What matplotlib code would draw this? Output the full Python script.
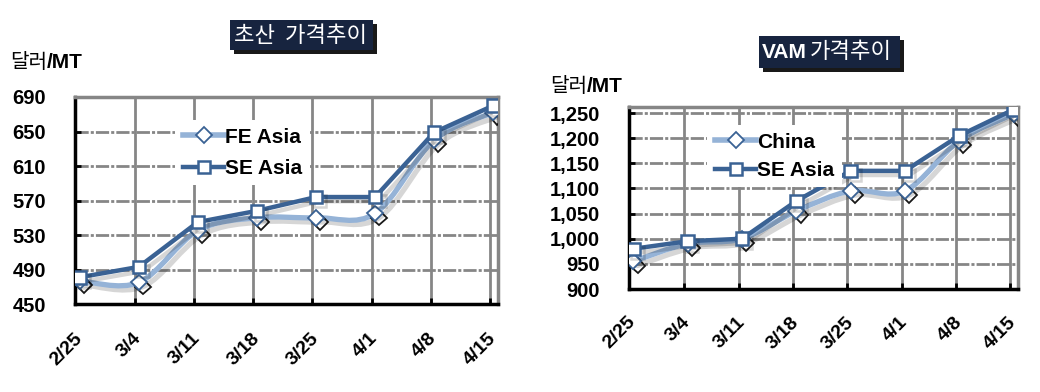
import numpy as np
import matplotlib
matplotlib.use("Agg")
import matplotlib.pyplot as plt
from matplotlib.path import Path
from matplotlib.patches import PathPatch, Rectangle
from matplotlib.lines import Line2D
import matplotlib.patheffects as pe

# data
dates = ["2/25", "3/4", "3/11", "3/18", "3/25", "4/1", "4/8", "4/15"]

aa_fe_asia = [477, 475, 535, 550, 550, 555, 640, 672]
aa_se_asia = [481, 493, 545, 558, 574, 574, 649, 680]
aa_yticks = [450, 490, 530, 570, 610, 650, 690]

vam_china = [955, 990, 1000, 1055, 1095, 1095, 1195, 1248]
vam_se_asia = [980, 995, 1000, 1075, 1135, 1135, 1205, 1257]
vam_yticks = [900, 950, 1000, 1050, 1100, 1150, 1200, 1250]

LIGHT = "#95b3d7"
DARK = "#3a6294"
GRID = "#868686"
NAVY = "#17243f"
FONT = ["Liberation Sans", "Noto Sans CJK KR"]
KFONT = ["Noto Sans CJK KR", "Liberation Sans"]

plt.rcParams["font.family"] = FONT
plt.rcParams["lines.scale_dashes"] = False


def smooth_path(x, y):
    # excel-like smoothed line: catmull-rom segments as bezier curves
    pts = np.column_stack([x, y]).astype(float)
    verts = [pts[0]]
    codes = [Path.MOVETO]
    n = len(pts)
    for i in range(n - 1):
        p0 = pts[i - 1] if i > 0 else pts[i]
        p1 = pts[i]
        p2 = pts[i + 1]
        p3 = pts[i + 2] if i + 2 < n else pts[i + 1]
        verts += [p1 + (p2 - p0) / 6, p2 - (p3 - p1) / 6, p2]
        codes += [Path.CURVE4] * 3
    return Path(verts, codes)


def panel(ax, light, dark, yticks, ylim, fmt, xpad):
    x = np.arange(len(dates))
    shadow = [pe.SimpleLineShadow(offset=(3, -3), shadow_color="k", alpha=0.16), pe.Normal()]

    # smoothed light series
    patch = PathPatch(smooth_path(x, light), facecolor="none", edgecolor=LIGHT,
                      lw=3.8, capstyle="round", joinstyle="round", zorder=3)
    patch.set_path_effects(shadow)
    ax.add_patch(patch)
    ax.plot(x, light, ls="none", marker="D", ms=8, mfc="white", mec=DARK, mew=1.3,
            zorder=4, path_effects=[pe.SimpleLineShadow(offset=(3, -3), shadow_color="k", alpha=0.9), pe.Normal()])

    # straight dark series
    ax.plot(x, dark, color=DARK, lw=3.2, marker="s", ms=9, mfc="white", mec=DARK, mew=1.8,
            zorder=5, path_effects=shadow)

    ax.set_xlim(-0.08, 7.08)
    ax.set_ylim(*ylim)
    ax.set_yticks(yticks)
    ax.set_yticklabels([fmt.format(v) for v in yticks], fontsize=14.5, fontweight="bold")
    ax.set_xticks(x)
    ax.set_xticklabels(dates, fontsize=14, fontweight="bold", rotation=45,
                       ha="right", va="center", rotation_mode="anchor")
    ax.set_xticks(x[1:] - 0.06, minor=True)
    ax.tick_params(axis="x", which="major", length=0, pad=xpad)
    ax.tick_params(axis="x", which="minor", direction="in", length=4, width=2, color="k")
    ax.tick_params(axis="y", direction="in", length=4, width=2, color="k", pad=21)

    ax.grid(axis="x", which="minor", color=GRID, lw=2, ls="-", zorder=0)
    ax.grid(axis="y", which="major", color=GRID, lw=2, dashes=(9.5, 1.5, 2.2, 1.5), zorder=0)
    ax.grid(axis="x", which="major", visible=False)
    ax.set_axisbelow(True)

    for s in ["left", "bottom"]:
        ax.spines[s].set_color("k")
        ax.spines[s].set_linewidth(2.5)
    for s in ["top", "right"]:
        ax.spines[s].set_color(GRID)
        ax.spines[s].set_linewidth(2.5)

    handles = [
        Line2D([], [], color=LIGHT, lw=4, marker="D", ms=8, mfc="white", mec=DARK, mew=1.3),
        Line2D([], [], color=DARK, lw=3.2, marker="s", ms=9, mfc="white", mec=DARK, mew=1.8),
    ]
    return handles


fig = plt.figure(figsize=(10.4, 3.92), dpi=100)
W, H = 1040.0, 392.0

ax1 = fig.add_axes([75 / W, 1 - 304 / H, 423 / W, 207 / H])
h1 = panel(ax1, aa_fe_asia, aa_se_asia, aa_yticks, (450, 690), "{:d}", 23)
ax1.legend(h1, ["FE Asia", "SE Asia"], loc="upper left",
           bbox_to_anchor=(165 / W, 1 - 110 / H), bbox_transform=fig.transFigure,
           prop={"size": 15, "weight": "bold"}, frameon=True, facecolor="white",
           edgecolor="none", framealpha=1, fancybox=False, handlelength=2.0,
           handletextpad=0.05, labelspacing=0.6, borderpad=0.35)

ax2 = fig.add_axes([629 / W, 1 - 289 / H, 389 / W, 182 / H])
h2 = panel(ax2, vam_china, vam_se_asia, vam_yticks, (900, 1262), "{:,d}", 22)
ax2.legend(h2, ["China", "SE Asia"], loc="upper left",
           bbox_to_anchor=(697 / W, 1 - 115 / H), bbox_transform=fig.transFigure,
           prop={"size": 15, "weight": "bold"}, frameon=True, facecolor="white",
           edgecolor="none", framealpha=1, fancybox=False, handlelength=2.0,
           handletextpad=0.05, labelspacing=0.45, borderpad=0.35)


def title_box(x0, y0, x1, y1):
    r = Rectangle((x0 / W, 1 - y1 / H), (x1 - x0) / W, (y1 - y0) / H,
                  transform=fig.transFigure, facecolor=NAVY, edgecolor="none", zorder=10)
    r.set_path_effects([pe.SimplePatchShadow(offset=(3, -3), shadow_rgbFace="k", alpha=0.9),
                        pe.Normal()])
    fig.patches.append(r)


title_box(230, 20, 373, 50)
fig.text(301 / W, 1 - 35 / H, "초산  가격추이", color="white", fontsize=16,
         family=KFONT, ha="center", va="center", zorder=11)

title_box(759, 36, 900, 68)
fig.text(762 / W, 1 - 52 / H, "VAM", color="white", fontsize=15, fontweight="bold",
         ha="left", va="center", zorder=11)
fig.text(810 / W, 1 - 52 / H, "가격추이", color="white", fontsize=16,
         family=KFONT, ha="left", va="center", zorder=11)

# unit labels
fig.text(10 / W, 1 - 63 / H, "달러", fontsize=14.5, family=KFONT, ha="left", va="center")
fig.text(47 / W, 1 - 63 / H, "/MT", fontsize=15, fontweight="bold", ha="left", va="center")
fig.text(550 / W, 1 - 87 / H, "달러", fontsize=14.5, family=KFONT, ha="left", va="center")
fig.text(587 / W, 1 - 87 / H, "/MT", fontsize=15, fontweight="bold", ha="left", va="center")

fig.savefig("out.png", dpi=100)
